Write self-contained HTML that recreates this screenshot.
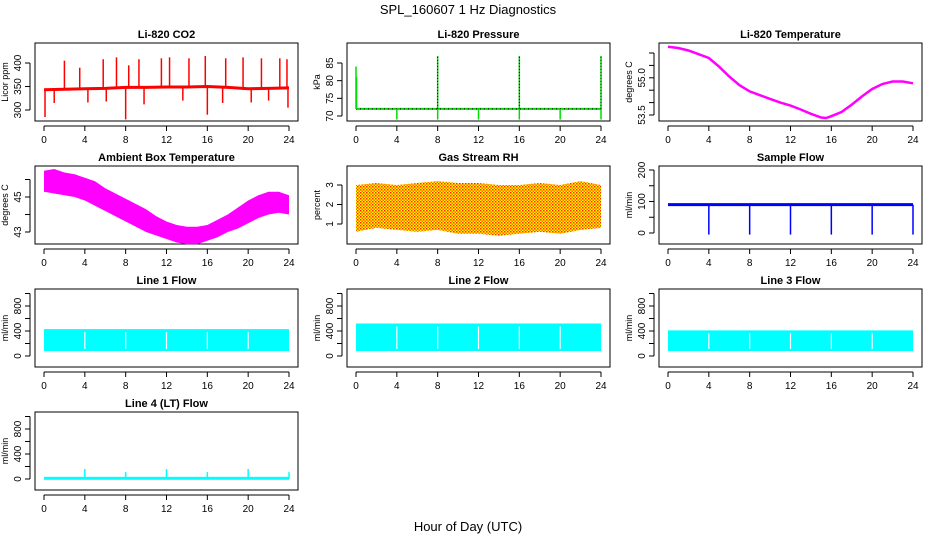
<!DOCTYPE html>
<html><head><meta charset="utf-8"><style>
body{margin:0;background:#fff;}
svg{display:block;font-family:"Liberation Sans",sans-serif;}
</style></head><body>
<svg id="chart" width="936" height="540" viewBox="0 0 936 540">
<defs>
<pattern id="rh" width="3" height="3" patternUnits="userSpaceOnUse"><rect width="3" height="3" fill="#ffff00"/><rect width="1.5" height="1.5" fill="#ff2a00"/><rect x="1.5" y="1.5" width="1.5" height="1.5" fill="#ff6a00"/></pattern>
</defs>
<text x="468" y="14" text-anchor="middle" font-size="13">SPL_160607  1 Hz Diagnostics</text>
<text x="468" y="531" text-anchor="middle" font-size="13">Hour of Day (UTC)</text>
</svg>
<script>
// ---- data arrays ----
const hourTicks=[0,4,8,12,16,20,24];
const co2BaseHours=[0,2,4,6,8,10,12,14,16,18,20,22,24];
const co2BaseVals=[343,344,345,346,348,348,349,349,350,348,345,346,347];
const co2SpikeHours=[2.0,3.5,5.8,7.1,8.3,9.3,11.5,12.3,14.2,15.8,17.8,19.5,21.3,23.1,23.8,0.1,8.0,16.0,23.9,1.0,4.3,6.1,9.8,13.6,17.5,20.3,22.0];
const co2SpikeVals=[405,390,408,412,395,408,410,412,410,415,410,412,410,410,408,285,280,290,305,315,316,318,312,320,315,316,320];
const presBase=72;
const presSpikeHours=[0,8,16,24,0.05,4,8,12,16,20,24];
const presSpikeVals=[84,87,87,87,81,69,69,69,69,69,69];
const tempHours=[0,1,2,3,4,5,6,7,8,9,10,11,12,13,14,15,15.5,16,17,18,19,20,21,22,23,24];
const tempVals=[56.25,56.2,56.1,55.95,55.8,55.45,55.05,54.7,54.45,54.3,54.15,54.0,53.88,53.72,53.55,53.4,53.38,53.45,53.62,53.92,54.25,54.55,54.75,54.85,54.85,54.78];
const ambHours=[0,1,2,3,4,5,6,7,8,9,10,11,12,13,14,15,16,17,18,19,20,21,22,23,24];
const ambHigh=[46.5,46.6,46.4,46.3,46.1,45.9,45.5,45.2,44.9,44.6,44.3,43.9,43.6,43.4,43.3,43.3,43.4,43.7,44.0,44.4,44.8,45.1,45.3,45.3,45.1];
const ambLow=[45.3,45.2,45.1,45.0,44.8,44.5,44.2,43.9,43.6,43.3,43.0,42.8,42.6,42.4,42.3,42.3,42.5,42.7,43.0,43.2,43.5,43.8,44.0,44.1,44.0];
const rhHours=[0,2,4,6,8,10,12,14,16,18,20,22,24];
const rhHigh=[3.0,3.1,3.0,3.1,3.2,3.1,3.1,3.0,3.0,3.1,3.0,3.2,3.0];
const rhLow=[0.6,0.8,0.7,0.6,0.7,0.5,0.5,0.4,0.5,0.6,0.5,0.7,0.8];
const sampleBase=90;
const sampleDipHours=[4,8,12,16,20,24];
const sampleDipVals=[-5,-5,-5,-5,-5,-5];
const lineLow=[80,80,80,20];
const lineHigh=[430,520,410,20];
const lineGapHours=[4,8,12,16,20];
const lt4SpikeHours=[4,8,12,16,20,24];
const lt4SpikeVals=[160,110,160,110,160,110];

// ---- layout ----
const S=document.getElementById('chart');
const NS='http://www.w3.org/2000/svg';
function el(tag,attrs,parent){const e=document.createElementNS(NS,tag);for(const k in attrs)e.setAttribute(k,attrs[k]);(parent||S).appendChild(e);return e;}
const colX=[35,347,659],rowY=[43,166,289,412],W=263,H=78;
function makePanel(r,c,title,ylab,v0,p0,v1,p1,ticks,labels,name){
  const L=colX[c],T=rowY[r];
  const g=el('g',{});
  
  
  const x=h=>L+9+h*(245/24);
  const y=v=>T+p0+(v-v0)*(p1-p0)/(v1-v0);
  const box=el('rect',{x:L,y:T,width:W,height:H,fill:'none',stroke:'#000','stroke-width':1},g);
  
  const t=el('text',{x:L+W/2,y:T-5,'text-anchor':'middle','font-size':11,'font-weight':'bold'},g);t.textContent=title;
  
  el('line',{x1:x(0),x2:x(24),y1:T+H+5,y2:T+H+5,stroke:'#000'},g);
  hourTicks.forEach(h=>{el('line',{x1:x(h),x2:x(h),y1:T+H+5,y2:T+H+10,stroke:'#000'},g);
    const tx=el('text',{x:x(h),y:T+H+22,'text-anchor':'middle','font-size':10},g);tx.textContent=h;
    });
  el('line',{x1:L-5,x2:L-5,y1:y(ticks[0]),y2:y(ticks[ticks.length-1]),stroke:'#000'},g);
  ticks.forEach(v=>{el('line',{x1:L-10,x2:L-5,y1:y(v),y2:y(v),stroke:'#000'},g);});
  labels.forEach(v=>{const tx=el('text',{x:L-14,y:y(+v),'text-anchor':'middle','font-size':10,transform:`rotate(-90 ${L-14} ${y(+v)})`},g);tx.textContent=v;
    });
  const yl=el('text',{x:L-27,y:T+H/2,'text-anchor':'middle','font-size':9,transform:`rotate(-90 ${L-27} ${T+H/2})`},g);yl.textContent=ylab;
  
  return {g,x,y,T,L};
}
function poly(P,hs,vs,color,w,name){const pts=hs.map((h,i)=>P.x(h).toFixed(1)+','+P.y(vs[i]).toFixed(1)).join(' ');
  const p=el('polyline',{points:pts,fill:'none',stroke:color,'stroke-width':w},P.g);return p;}
function band(P,hs,hi,lo,fill,name){const pts=hs.map((h,i)=>P.x(h)+','+P.y(hi[i])).concat(hs.slice().reverse().map((h,i)=>P.x(h)+','+P.y(lo[hs.length-1-i])));
  const p=el('polygon',{points:pts.join(' '),fill:fill},P.g);return p;}

// CO2
let P=makePanel(0,0,'Li-820 CO2','Licor ppm',300,67,400,20,[300,350,400],['300','350','400'],'co2-panel');
poly(P,co2BaseHours,co2BaseVals,'#ff0000',3,'co2-line');
co2SpikeHours.forEach((h,i)=>{const b=co2BaseVals[Math.min(12,Math.round(h/2))];const s=el('line',{x1:P.x(h),x2:P.x(h),y1:P.y(b),y2:P.y(co2SpikeVals[i]),stroke:'#ff0000','stroke-width':1.5},P.g);
  });
// Pressure
P=makePanel(0,1,'Li-820 Pressure','kPa',70,73,85,20,[70,75,80,85],['70','75','80','85'],'pressure-panel');
{const l=el('line',{x1:P.x(0),x2:P.x(24),y1:P.y(presBase),y2:P.y(presBase),stroke:'#00dd00','stroke-width':2},P.g);
 el('line',{x1:P.x(0),x2:P.x(24),y1:P.y(presBase),y2:P.y(presBase),stroke:'#000','stroke-width':1,'stroke-dasharray':'1 3'},P.g);}
presSpikeHours.forEach((h,i)=>{const s=el('line',{x1:P.x(h),x2:P.x(h),y1:P.y(presBase),y2:P.y(presSpikeVals[i]),stroke:'#00dd00','stroke-width':1.5},P.g);
  
  if(presSpikeVals[i]>85)el('line',{x1:P.x(h),x2:P.x(h),y1:P.y(presBase),y2:P.y(presSpikeVals[i]),stroke:'#000','stroke-width':1,'stroke-dasharray':'1 2'},P.g);});
// Temperature
P=makePanel(0,2,'Li-820 Temperature','degrees C',53.5,72,56,10,[53.5,54,54.5,55,55.5,56],['53.5','55.0'],'temperature-panel');
poly(P,tempHours,tempVals,'#ff00ff',2.5,'temperature-line');
// Ambient
P=makePanel(1,0,'Ambient Box Temperature','degrees C',43,66,45,31,[43,44,45,46],['43','45'],'ambient-panel');
band(P,ambHours,ambHigh,ambLow,'#ff00ff','ambient-band');
// RH
P=makePanel(1,1,'Gas Stream RH','percent',1,58,3,19,[1,2,3],['1','2','3'],'rh-panel');
band(P,rhHours,rhHigh,rhLow,'url(#rh)','rh-band');
// Sample flow
P=makePanel(1,2,'Sample Flow','ml/min',0,67,200,4,[0,50,100,150,200],['0','100','200'],'sample-flow-panel');
{const l=el('line',{x1:P.x(0),x2:P.x(24),y1:P.y(sampleBase),y2:P.y(sampleBase),stroke:'#0000ff','stroke-width':3},P.g);}
sampleDipHours.forEach((h,i)=>{const s=el('line',{x1:P.x(h),x2:P.x(h),y1:P.y(sampleBase),y2:P.y(sampleDipVals[i]),stroke:'#0000ff','stroke-width':1.5},P.g);
  });
// Line flows
const lineTitles=['Line 1 Flow','Line 2 Flow','Line 3 Flow','Line 4 (LT) Flow'];
const lineRC=[[2,0],[2,1],[2,2],[3,0]];
lineTitles.forEach((tt,k)=>{
  const Q=makePanel(lineRC[k][0],lineRC[k][1],tt,'ml/min',0,67,800,17,[0,200,400,600,800,1000],['0','400','800'],'line'+(k+1)+'-flow-panel');
  const hi=k<3?lineHigh[k]:lineLow[k]+15;
  const r=el('rect',{x:Q.x(0),y:Q.y(hi),width:Q.x(24)-Q.x(0),height:Math.max(3,Q.y(k<3?lineLow[k]:0)-Q.y(hi)),fill:'#00ffff'},Q.g);
  
  if(k<3){lineGapHours.forEach(h=>{const gp=el('line',{x1:Q.x(h),x2:Q.x(h),y1:Q.y(hi)+3,y2:Q.y(lineLow[k])-2,stroke:'#fff','stroke-width':1.2},Q.g);
    });}
  else{lt4SpikeHours.forEach((h,i)=>{const s=el('line',{x1:Q.x(h),x2:Q.x(h),y1:Q.y(0),y2:Q.y(lt4SpikeVals[i]),stroke:'#00ffff','stroke-width':1.5},Q.g);
    });}
});
</script>
</body></html>
